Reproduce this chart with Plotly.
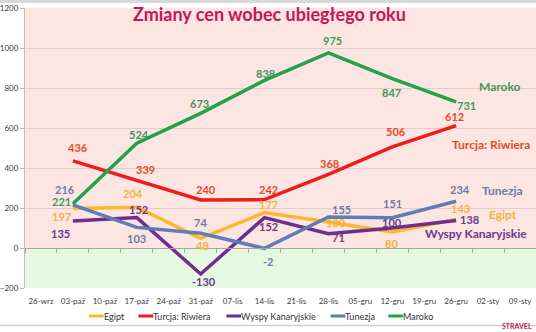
import plotly.graph_objects as go

# ---------------- data ----------------
week_labels = ['26-wrz', '03-paź', '10-paź', '17-paź', '24-paź', '31-paź', '07-lis', '14-lis',
               '21-lis', '28-lis', '05-gru', '12-gru', '19-gru', '26-gru', '02-sty', '09-sty']
point_weeks = ['03-paź', '17-paź', '31-paź', '14-lis', '28-lis', '12-gru', '26-gru']

egipt = [197, 204, 48, 177, 130, 80, 143]
turcja = [436, 339, 240, 242, 368, 506, 612]
wyspy = [135, 152, -130, 152, 71, 100, 138]
tunezja = [216, 103, 74, -2, 155, 151, 234]
maroko = [221, 524, 673, 838, 975, 847, 731]

series_names = ['Egipt', 'Turcja: Riwiera', 'Wyspy Kanaryjskie', 'Tunezja', 'Maroko']
y_ticks = [-200, 0, 200, 400, 600, 800, 1000, 1200]

# ---------------- styles ----------------
line_colors = {'Egipt': '#FBB82E', 'Turcja: Riwiera': '#EE1C1C', 'Wyspy Kanaryjskie': '#6F2E8F',
               'Tunezja': '#5C7DB5', 'Maroko': '#22A24A'}
label_colors = {'Egipt': '#F2B43C', 'Turcja: Riwiera': '#E34B2E', 'Wyspy Kanaryjskie': '#6B3A8C',
                'Tunezja': '#6A7BA5', 'Maroko': '#3C9A5C'}
# label offsets in pixels (dx, dy up)
label_offsets = {
    'Maroko': [(-11, 2), (2, 9), (-1, 10), (1, 7), (4, 13), (-1, -14), (10, -4)],
    'Turcja: Riwiera': [(5, 13), (9, 11), (5, 11), (4, 10), (1, 11), (4, 15), (-2, 9)],
    'Egipt': [(-11, -8), (-4, 14), (2, -7), (4, 8), (8, 0), (-1, -11), (4, 11)],
    'Wyspy Kanaryjskie': [(-12, -12), (2, 8), (3, -7), (4, -9), (10, -4), (0, 6), (13, 1)],
    'Tunezja': [(-8, 15), (0, -11), (0, 11), (3, -13), (13, 8), (0, 14), (4, 12)],
}
name_labels = {  # paper positions of series name labels
    'Maroko': (0.930, 0.718),
    'Turcja: Riwiera': (0.912, 0.511),
    'Tunezja': (0.935, 0.350),
    'Egipt': (0.935, 0.264),
    'Wyspy Kanaryjskie': (0.883, 0.196),
}
# custom legend: sample line start (paper x) for each series
legend_x = {'Egipt': 0.125, 'Turcja: Riwiera': 0.222, 'Wyspy Kanaryjskie': 0.394,
            'Tunezja': 0.598, 'Maroko': 0.711}
LEG_Y = -0.1
LEG_LINE = 0.029

values = {'Egipt': egipt, 'Turcja: Riwiera': turcja, 'Wyspy Kanaryjskie': wyspy,
          'Tunezja': tunezja, 'Maroko': maroko}

FONT = 'Lato'
fig = go.Figure()

for name in series_names:
    fig.add_trace(go.Scatter(
        x=point_weeks, y=values[name], mode='lines', name=name,
        line=dict(color=line_colors[name], width=3.5),
        hoverinfo='skip', showlegend=False))

# invisible trace to enable the zero-line axis with tick marks
fig.add_trace(go.Scatter(x=[0], y=[0], xaxis='x2', mode='markers',
                         marker=dict(opacity=0), showlegend=False, hoverinfo='skip'))

annotations = []
shapes = [
    dict(type='rect', xref='paper', yref='y', x0=0, x1=1, y0=0, y1=1200,
         fillcolor='#FDE5E2', line=dict(width=0), layer='below'),
    dict(type='rect', xref='paper', yref='y', x0=0, x1=1, y0=-200, y1=0,
         fillcolor='#E6F9E0', line=dict(width=0), layer='below'),
    dict(type='rect', xref='paper', yref='paper', x0=-0.05, x1=1.01, y0=1.018, y1=1.04,
         fillcolor='#D8D8D8', line=dict(width=0)),
    dict(type='line', xref='paper', yref='paper', x0=-0.05, x1=1.01, y0=-0.134, y1=-0.134,
         line=dict(color='#D0D0D0', width=1.5)),
]

for name in series_names:
    for xv, yv, (dx, dy) in zip(point_weeks, values[name], label_offsets[name]):
        annotations.append(dict(
            x=xv, y=yv, xref='x', yref='y', text=str(yv), showarrow=False,
            xshift=dx, yshift=dy,
            font=dict(family=FONT, size=11, color=label_colors[name], weight='bold')))
    px, py = name_labels[name]
    annotations.append(dict(
        x=px, y=py, xref='paper', yref='paper', text=name, showarrow=False,
        xanchor='center', yanchor='middle',
        font=dict(family=FONT, size=12, color=label_colors[name], weight='bold')))
    # legend entry
    lx = legend_x[name]
    shapes.append(dict(type='line', xref='paper', yref='paper', x0=lx, x1=lx + LEG_LINE,
                       y0=LEG_Y, y1=LEG_Y, line=dict(color=line_colors[name], width=3)))
    annotations.append(dict(
        x=lx + LEG_LINE, y=LEG_Y, xref='paper', yref='paper', text=name, showarrow=False,
        xanchor='left', yanchor='middle', xshift=-2,
        font=dict(family=FONT, size=9, color='#333333')))

annotations.append(dict(
    x=0.478, y=0.978, xref='paper', yref='paper', text='Zmiany cen wobec ubiegłego roku',
    showarrow=False, xanchor='center', yanchor='middle',
    font=dict(family=FONT, size=18, color='#C8145A', weight='bold')))
annotations.append(dict(
    x=1.0, y=-0.152, xref='paper', yref='paper', text='STRAVEL',
    showarrow=False, xanchor='right', yanchor='bottom', xshift=-3, borderpad=0,
    font=dict(family=FONT, size=7, color='#C8145A', weight='bold')))

fig.update_layout(
    width=536, height=332,
    margin=dict(l=23, r=0, t=8, b=44),
    paper_bgcolor='white', plot_bgcolor='rgba(0,0,0,0)',
    font=dict(family=FONT, color='#404040'),
    showlegend=False,
    xaxis=dict(type='category', categoryorder='array', categoryarray=week_labels,
               tickvals=week_labels, range=[-0.5, 15.5], showgrid=False, zeroline=False,
               showline=False, ticks='', ticklabelstandoff=7,
               tickfont=dict(family=FONT, size=8, color='#404040')),
    xaxis2=dict(overlaying='x', anchor='free', position=1 / 7, range=[-0.5, 15.5],
                tickvals=[i - 0.5 for i in range(17)], ticks='outside', ticklen=4,
                tickcolor='#A6A6A6', showticklabels=False, showgrid=False, zeroline=False,
                showline=True, linecolor='#A6A6A6', linewidth=1, side='bottom'),
    yaxis=dict(range=[-200, 1200], tickvals=y_ticks, showgrid=True,
               gridcolor='rgba(200,170,170,0.45)', zeroline=False,
               showline=True, linecolor='#BFBFBF', ticks='outside', ticklen=4,
               tickcolor='#BFBFBF', tickfont=dict(family=FONT, size=8, color='#404040')),
    annotations=annotations,
    shapes=shapes,
)

fig.write_html('out.html')
